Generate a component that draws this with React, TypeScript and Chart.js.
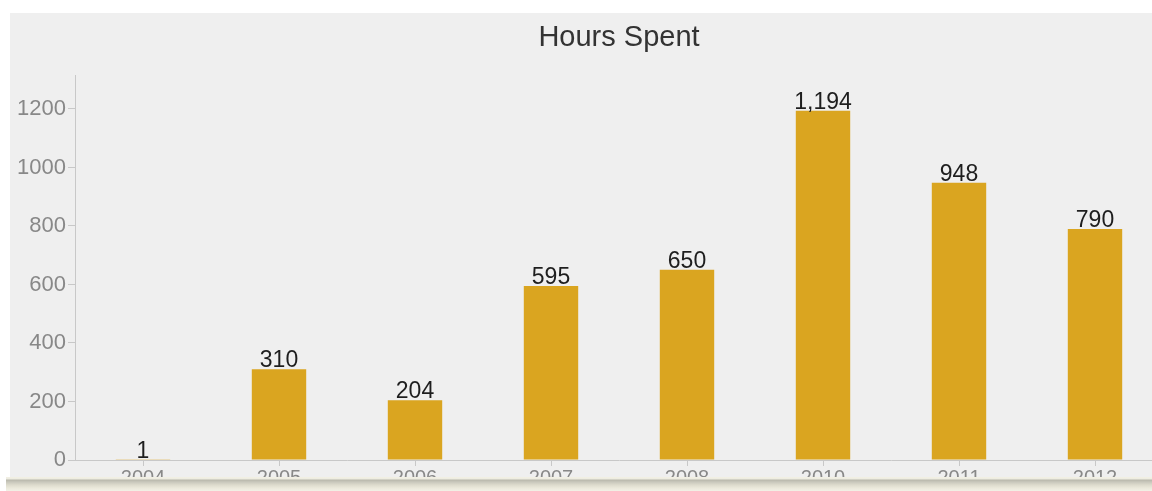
import React, { useEffect, useRef } from "react";
import { Chart, registerables } from "chart.js";

Chart.register(...registerables);

const categories = ["2004", "2005", "2006", "2007", "2008", "2010", "2011", "2012"];
const hours = [1, 310, 204, 595, 650, 1194, 948, 790];
const titleText = "Hours Spent";
const yMax = 1316;
const yStep = 200;

const FONT = "'Liberation Sans', Arial, Helvetica, sans-serif";

const titlePlugin = {
  id: "customTitle",
  afterDraw(chart: any) {
    const { ctx, chartArea } = chart;
    ctx.save();
    ctx.font = `29px ${FONT}`;
    ctx.fillStyle = "#333333";
    ctx.textAlign = "center";
    ctx.textBaseline = "middle";
    ctx.fillText(titleText, (chartArea.left + chartArea.right) / 2, 38);
    ctx.restore();
  },
};

const valueLabelPlugin = {
  id: "valueLabels",
  afterDatasetsDraw(chart: any) {
    const { ctx } = chart;
    const meta = chart.getDatasetMeta(0);
    ctx.save();
    ctx.font = `23px ${FONT}`;
    ctx.fillStyle = "#1e1e1e";
    ctx.textAlign = "center";
    ctx.textBaseline = "alphabetic";
    meta.data.forEach((bar: any, i: number) => {
      const v = chart.data.datasets[0].data[i] as number;
      ctx.fillText(v.toLocaleString("en-US"), bar.x, bar.y - 2);
    });
    ctx.restore();
  },
};

export default function App() {
  const ref = useRef<HTMLCanvasElement | null>(null);

  useEffect(() => {
    if (!ref.current) return;
    const chart = new Chart(ref.current, {
      type: "bar",
      data: {
        labels: categories,
        datasets: [
          {
            label: titleText,
            data: hours,
            backgroundColor: "#DAA520",
            borderWidth: 0,
            barPercentage: 0.4,
            categoryPercentage: 1.0,
          },
        ],
      },
      options: {
        responsive: false,
        animation: false,
        layout: { padding: { top: 75, right: 7, bottom: 0, left: 0 } },
        plugins: {
          legend: { display: false },
          title: { display: false },
          tooltip: { enabled: false },
        },
        scales: {
          x: {
            offset: true,
            grid: {
              offset: false,
              drawOnChartArea: false,
              drawTicks: true,
              tickLength: 6,
              color: "#c8c8c8",
            },
            border: { display: true, color: "#c8c8c8" },
            ticks: {
              color: "#888888",
              font: { family: FONT, size: 20 },
              padding: 0,
              maxRotation: 0,
              autoSkip: false,
            },
            afterFit(scale: any) {
              scale.height = 40;
            },
          },
          y: {
            min: 0,
            max: yMax,
            grid: {
              drawOnChartArea: false,
              drawTicks: true,
              tickLength: 7,
              color: "#c8c8c8",
            },
            border: { display: true, color: "#c8c8c8" },
            ticks: {
              stepSize: yStep,
              includeBounds: false,
              color: "#888888",
              font: { family: FONT, size: 22 },
              padding: 2,
              callback: (v: any) => String(v),
            },
            afterFit(scale: any) {
              scale.width = 75;
            },
          },
        },
      },
      plugins: [titlePlugin, valueLabelPlugin],
    });
    return () => chart.destroy();
  }, []);

  return (
    <div
      style={{
        position: "absolute",
        left: 0,
        top: 0,
        width: 1152,
        height: 491,
        overflow: "hidden",
        background: "#ffffff",
      }}
    >
      <div
        style={{
          position: "absolute",
          left: 10,
          top: 13,
          right: 0,
          height: 465,
          background: "#efefef",
        }}
      />
      <canvas
        ref={ref}
        width={1170}
        height={500}
        style={{ position: "absolute", left: 0, top: 0, width: 1170, height: 500 }}
      />
      <div
        style={{
          position: "absolute",
          left: 6,
          right: 0,
          top: 477,
          height: 14,
          background:
            "linear-gradient(to bottom, #f3f1e4 0px, #ecebe0 2px, #b9b8ac 3px, #c9c8bc 5px, #dddbcd 8px, #ebe9db 11px, #f2f0e6 14px)",
        }}
      />
    </div>
  );
}
